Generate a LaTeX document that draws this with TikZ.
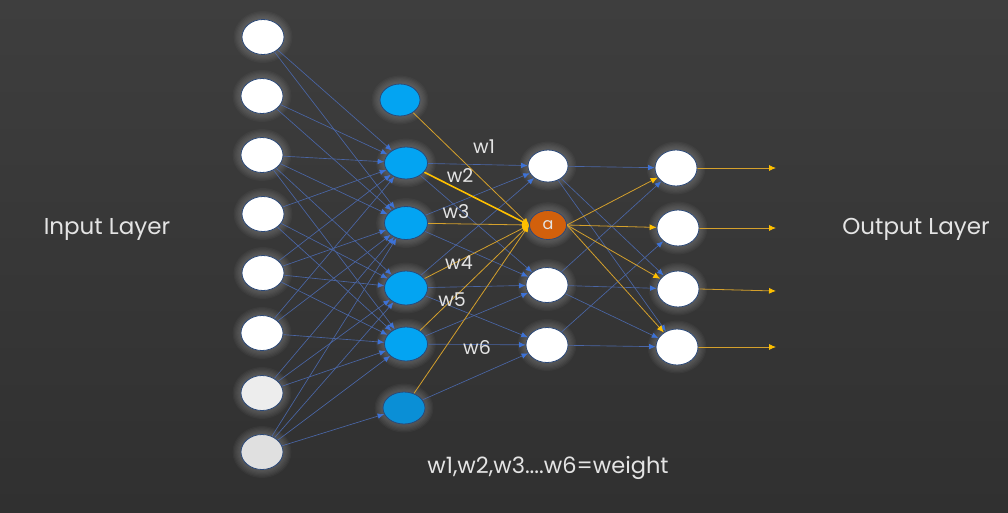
\documentclass[tikz,border=0pt]{standalone}
\usepackage{fontspec}
\setmainfont{Poppins}
\usetikzlibrary{shapes.geometric,arrows.meta}
\pgfdeclarelayer{bg}
\pgfdeclarelayer{glow}
\pgfdeclarelayer{edges}
\pgfsetlayers{bg,glow,edges,main}

\definecolor{bgtop}{HTML}{3E3E3E}
\definecolor{bgbot}{HTML}{303030}
\definecolor{nodeborder}{HTML}{2B4877}
\definecolor{neuronblue}{HTML}{03A4F2}
\definecolor{neurondark}{HTML}{0A8FD6}
\definecolor{edgeblue}{HTML}{4A66A6}
\definecolor{tipblue}{HTML}{3D72D6}
\definecolor{wire}{HTML}{D4A02C}
\definecolor{wirebright}{HTML}{FFC000}
\definecolor{actorange}{HTML}{D2600C}
\definecolor{labelgray}{HTML}{E4E4E4}
\definecolor{glowc}{HTML}{A8A8A8}

\newcommand\mkneuron[6]{%
  \begin{pgfonlayer}{glow}
    \foreach \k in {1,...,7}
      \fill[glowc,opacity=0.055] (#2,#3) ellipse [x radius={#4*0.5pt+\k*1.2pt}, y radius={#5*0.5pt+\k*1.2pt}];
  \end{pgfonlayer}
  \node[neuron,#6,minimum width=#4pt,minimum height=#5pt] (#1) at (#2,#3) {};
}

\begin{document}
\begin{tikzpicture}[x=1pt,y=-1pt,
  neuron/.style={ellipse,draw=nodeborder,line width=0.8pt,inner sep=0pt,fill=white},
  bluefill/.style={fill=neuronblue},
  darkfill/.style={fill=neurondark},
  blueedge/.style={draw=edgeblue,line width=0.65pt,-{Latex[length=6.5pt,width=5.5pt,color=tipblue]}},
  yedge/.style={draw=wire,line width=0.8pt,-{Latex[length=7pt,width=6pt,color=wirebright]}},
  weightlbl/.style={text=labelgray,font=\fontsize{19}{19}\selectfont,inner sep=0pt},
  biglbl/.style={text=labelgray,font=\fontsize{23}{23}\selectfont,inner sep=0pt}
]
\begin{pgfonlayer}{bg}
  \shade[top color=bgtop,bottom color=bgbot] (0,0) rectangle (1008,512);
\end{pgfonlayer}
\useasboundingbox (0,0) rectangle (1008,512);

% input layer
\mkneuron{I1}{263}{37}{42}{35}{}
\mkneuron{I2}{262}{96}{42}{35}{}
\mkneuron{I3}{262}{155}{42}{35}{}
\mkneuron{I4}{263}{214}{42}{35}{}
\mkneuron{I5}{263}{273}{42}{35}{}
\mkneuron{I6}{262}{333}{42}{35}{}
\mkneuron{I7}{262}{393}{42}{35}{fill=black!7}
\mkneuron{I8}{262}{452}{42}{35}{fill=black!12}

% first hidden layer
\mkneuron{B1}{400}{100}{40}{32}{bluefill}
\mkneuron{B2}{406}{163}{43}{32}{bluefill}
\mkneuron{B3}{406}{223}{43}{33}{bluefill}
\mkneuron{B4}{406}{288}{43}{34}{bluefill}
\mkneuron{B5}{406}{344}{43}{34}{bluefill}
\mkneuron{B6}{404}{408}{42}{32}{darkfill}

% second hidden layer
\mkneuron{H1}{548}{166}{40}{32}{}
\mkneuron{A}{548}{225}{37}{29}{fill=actorange}
\mkneuron{H3}{547}{285}{42}{35}{}
\mkneuron{H4}{547}{345}{42}{35}{}
\node[text=labelgray,font=\fontsize{16}{16}\selectfont] at (A) {a};

% output layer
\mkneuron{O1}{676}{168}{42}{36}{}
\mkneuron{O2}{678}{228}{42}{36}{}
\mkneuron{O3}{678}{289}{42}{36}{}
\mkneuron{O4}{677}{347}{42}{36}{}

\coordinate (E1) at (776,168);
\coordinate (E2) at (776,228);
\coordinate (E3) at (776,291);
\coordinate (E4) at (776,347);

\begin{pgfonlayer}{edges}
  \foreach \s/\t in {I1/B2,I1/B3,I2/B2,I2/B3,I3/B2,I3/B3,I3/B4,I3/B5,
                     I4/B2,I4/B4,I4/B5,I5/B2,I5/B3,I5/B4,I5/B5,
                     I6/B2,I6/B3,I6/B5,I7/B3,I7/B4,I7/B5,
                     I8/B3,I8/B4,I8/B5,I8/B6,
                     B2/H1,B2/H3,B3/H1,B3/H3,B4/H1,B4/H3,B4/H4,B5/H3,B5/H4,B6/H4,
                     H1/O1,H1/O3,H1/O4,H3/O1,H3/O3,H3/O4,H4/O2,H4/O4}
    \draw[blueedge] (\s) -- (\t);
  \foreach \s in {B1,B3,B4,B5,B6}
    \draw[yedge] (\s) -- (A.west);
  \draw[yedge,draw=wirebright,line width=1.6pt] (B2) -- (A.west);
  \foreach \t in {O1,O2,O3,O4}
    \draw[yedge] (A.east) -- (\t);
  \draw[yedge] (O1.east) -- (E1);
  \draw[yedge] (O2.east) -- (E2);
  \draw[yedge] (O3.east) -- (E3);
  \draw[yedge] (O4.east) -- (E4);
\end{pgfonlayer}

% weight labels
\node[weightlbl] (w1) at (484,147) {w1};
\node[weightlbl] (w2) at (460,176) {w2};
\node[weightlbl] (w3) at (456,212) {w3};
\node[weightlbl] (w4) at (459,263) {w4};
\node[weightlbl] (w5) at (452,300) {w5};
\node[weightlbl] (w6) at (477,347) {w6};

\node[biglbl] (inlbl) at (107,229) {Input Layer};
\node[biglbl] (outlbl) at (916,229) {Output Layer};
\node[weightlbl,font=\fontsize{22.5}{22.5}\selectfont] (legend) at (548,468) {w1,w2,w3....w6=weight};
\end{tikzpicture}
\end{document}
